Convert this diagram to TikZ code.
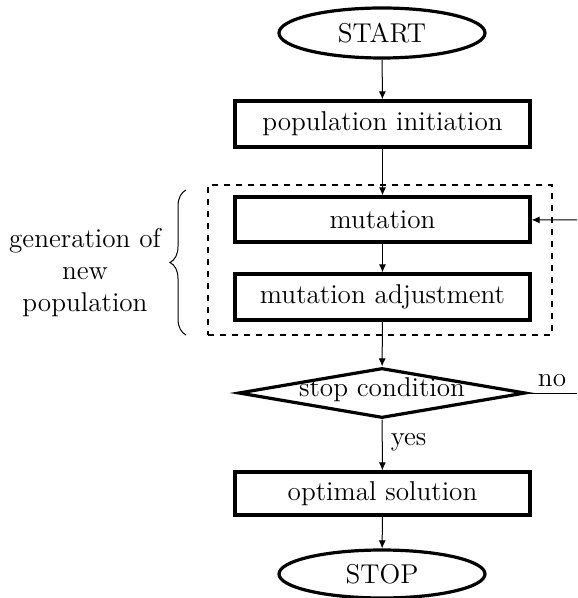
\documentclass[tikz,border=0pt]{standalone}
\usetikzlibrary{shapes.geometric,arrows.meta,decorations.pathreplacing}
\begin{document}
\begin{tikzpicture}[x=0.5pt,y=-0.5pt,
  font=\fontsize{13.6}{16}\selectfont,
  proc/.style={draw,line width=1.6pt,rectangle,minimum width=147.5pt,minimum height=23pt,inner sep=0pt,fill=white},
  term/.style={draw,line width=1.6pt,ellipse,minimum width=103pt,minimum height=25pt,inner sep=0pt},
  cond/.style={draw,line width=1.6pt,diamond,aspect=5.74,minimum width=143.5pt,minimum height=25pt,inner sep=0pt},
  flow/.style={line width=0.5pt,-{Latex[length=4pt,width=3.5pt]}},
  plain/.style={line width=0.5pt}]
\useasboundingbox (0,0) rectangle (577,598);

% group frame around the generation steps
\node[draw,dashed,line width=0.6pt,minimum width=172pt,minimum height=75pt,inner sep=0pt] (grp) at (380,260) {};

\node[term] (start) at (382,33) {START};
\node[proc] (init) at (382.5,124) {population initiation};
\node[proc,minimum height=22.5pt] (mut) at (382.5,219.5) {mutation};
\node[proc] (adj) at (382.5,297) {mutation adjustment};
% decision: fixed-size diamond, text placed on top of it
\node[cond] (stop) at (382,393) {};
\node[inner sep=0pt] (stoptxt) at ([yshift=1.5pt]stop.center) {stop condition};
\node[proc,minimum height=21.5pt] (opt) at (382.5,493.5) {optimal solution};
\node[term,minimum height=24pt] (end) at (382,574) {STOP};

\coordinate (loopin) at (577,220);
\coordinate (loopout) at (577,393);

\draw[flow] (start) -- (init);
\draw[flow] (init) -- (mut);
\draw[flow] (mut) -- (adj);
\draw[flow] (adj) -- (stop);
\draw[flow] (stop) -- node[right,pos=0.45,inner sep=4pt] (yes) {yes} (opt);
\draw[flow] (opt) -- (end);
\draw[flow] (loopin) -- (mut);
\draw[plain] (stop.east) -- node[above,inner sep=3pt] (no) {no} (loopout);

% brace and label for the grouped steps
\coordinate (bb) at (186,335);
\coordinate (bt) at (186,190);
\draw[line width=0.5pt,decorate,decoration={brace,amplitude=8pt}] (bb) -- (bt);
\node[align=center,inner sep=0pt] (lbl) at (85,273) {generation of\\new\\population};
\end{tikzpicture}
\end{document}
